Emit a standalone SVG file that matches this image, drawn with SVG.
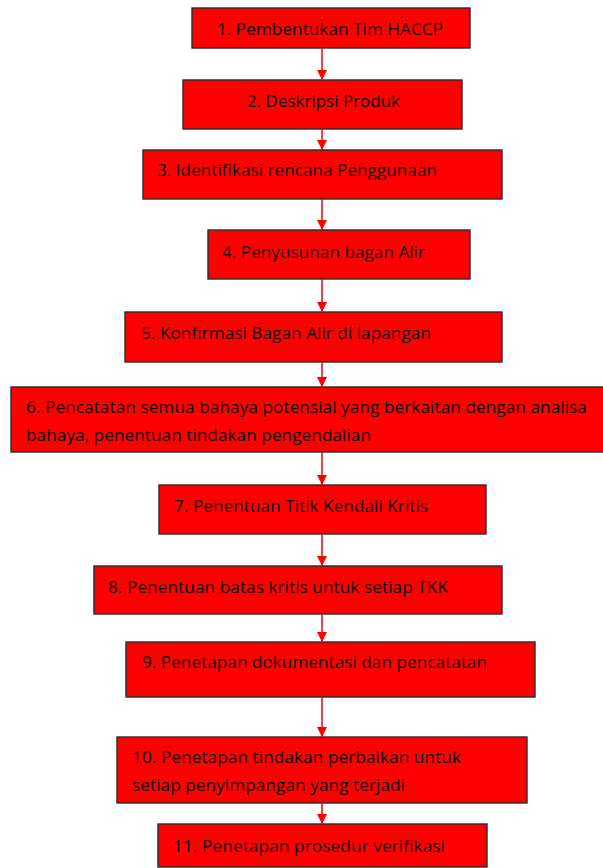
<svg xmlns="http://www.w3.org/2000/svg" width="603" height="868" viewBox="0 0 603 868">
  <style>
    .box { fill: #ff0000; stroke: #2a2a2a; stroke-width: 1.4; }
    .lbl { font-family: "Open Sans", "Noto Sans", "Liberation Sans", sans-serif; font-size: 17px; fill: #160000; }
    .link { stroke: #ff0000; stroke-width: 1.5; fill: none; marker-end: url(#head); }
  </style>
  <defs>
    <marker id="head" viewBox="0 0 10 10" refX="10" refY="5" markerUnits="userSpaceOnUse" markerWidth="10" markerHeight="10" orient="auto">
      <path d="M0,0 L10,5 L0,10 Z" fill="#ff0000"/>
    </marker>
  </defs>
  <rect width="603" height="868" fill="#ffffff"/>

  <!-- flow steps -->
  <g id="step1">
    <rect class="box" x="192" y="8" width="278" height="40"/>
    <text class="lbl" x="217" y="35" textLength="226" lengthAdjust="spacingAndGlyphs">1. Pembentukan Tim HACCP</text>
  </g>
  <g id="step2">
    <rect class="box" x="183" y="80" width="279" height="49"/>
    <text class="lbl" x="247" y="107" textLength="153" lengthAdjust="spacingAndGlyphs">2. Deskripsi Produk</text>
  </g>
  <g id="step3">
    <rect class="box" x="143" y="150" width="359" height="49"/>
    <text class="lbl" x="157" y="176" textLength="280" lengthAdjust="spacingAndGlyphs">3. Identifikasi rencana Penggunaan</text>
  </g>
  <g id="step4">
    <rect class="box" x="208" y="230" width="262" height="49"/>
    <text class="lbl" x="222" y="258" textLength="203" lengthAdjust="spacingAndGlyphs">4. Penyusunan bagan Alir</text>
  </g>
  <g id="step5">
    <rect class="box" x="125" y="312" width="377" height="50"/>
    <text class="lbl" x="141" y="339" textLength="290" lengthAdjust="spacingAndGlyphs">5. Konfirmasi Bagan Alir di lapangan</text>
  </g>
  <g id="step6">
    <rect class="box" x="11" y="387" width="600" height="65"/>
    <text class="lbl" x="26" y="413" textLength="561" lengthAdjust="spacingAndGlyphs">6. Pencatatan semua bahaya potensial yang berkaitan dengan analisa</text>
    <text class="lbl" x="26" y="441" textLength="345" lengthAdjust="spacingAndGlyphs">bahaya, penentuan tindakan pengendalian</text>
  </g>
  <g id="step7">
    <rect class="box" x="159" y="485" width="327" height="49"/>
    <text class="lbl" x="174" y="512" textLength="254" lengthAdjust="spacingAndGlyphs">7. Penentuan Titik Kendali Kritis</text>
  </g>
  <g id="step8">
    <rect class="box" x="94" y="566" width="408" height="48"/>
    <text class="lbl" x="108" y="593" textLength="340" lengthAdjust="spacingAndGlyphs">8. Penentuan batas kritis untuk setiap TKK</text>
  </g>
  <g id="step9">
    <rect class="box" x="126" y="642" width="409" height="55"/>
    <text class="lbl" x="142" y="668" textLength="345" lengthAdjust="spacingAndGlyphs">9. Penetapan dokumentasi dan pencatatan</text>
  </g>
  <g id="step10">
    <rect class="box" x="117" y="737" width="410" height="66"/>
    <text class="lbl" x="132" y="763" textLength="329" lengthAdjust="spacingAndGlyphs">10. Penetapan tindakan perbaikan untuk</text>
    <text class="lbl" x="132" y="791" textLength="273" lengthAdjust="spacingAndGlyphs">setiap penyimpangan yang terjadi</text>
  </g>
  <g id="step11">
    <rect class="box" x="158" y="824" width="329" height="43"/>
    <text class="lbl" x="173" y="852" textLength="272" lengthAdjust="spacingAndGlyphs">11. Penetapan prosedur verifikasi</text>
  </g>

  <!-- connectors between steps -->
  <g id="connectors">
    <line class="link" x1="322" y1="48" x2="322" y2="80"/>
    <line class="link" x1="322" y1="129" x2="322" y2="150"/>
    <line class="link" x1="322" y1="199" x2="322" y2="230"/>
    <line class="link" x1="322" y1="279" x2="322" y2="312"/>
    <line class="link" x1="322" y1="362" x2="322" y2="387"/>
    <line class="link" x1="322" y1="452" x2="322" y2="485"/>
    <line class="link" x1="322" y1="534" x2="322" y2="566"/>
    <line class="link" x1="322" y1="614" x2="322" y2="642"/>
    <line class="link" x1="322" y1="697" x2="322" y2="737"/>
    <line class="link" x1="322" y1="803" x2="322" y2="824"/>
  </g>
</svg>
